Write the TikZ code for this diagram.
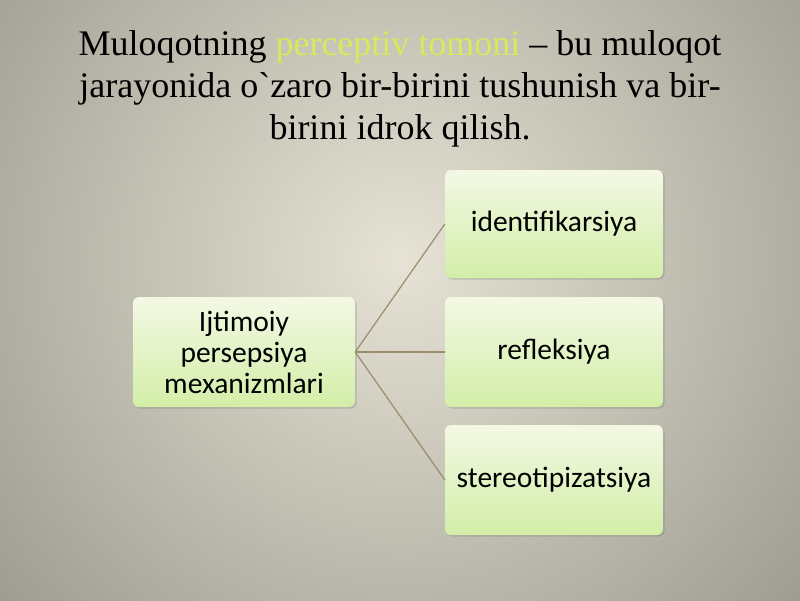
\documentclass[tikz,border=0pt]{standalone}
\usepackage{fontspec}
\setmainfont{Liberation Serif}[Ligatures=TeXOff]
\newfontfamily\boxfont{Carlito}
\usetikzlibrary{shadows}
\definecolor{bgdark}{HTML}{9D9B8F}
\definecolor{bglight}{HTML}{E6E3D6}
\definecolor{boxtop}{HTML}{F3F8E4}
\definecolor{boxbot}{HTML}{D3EEA8}
\definecolor{hilite}{HTML}{D6EA5C}
\definecolor{linkcol}{HTML}{9A8C6C}
\tikzset{
  box/.style={rectangle, rounded corners=6pt, minimum width=222pt, minimum height=110pt,
    top color=boxtop, bottom color=boxbot, draw=none, align=center,
    font=\boxfont\fontsize{29.5pt}{31pt}\selectfont, text=black,
    drop shadow={shadow xshift=1.5pt, shadow yshift=-1.5pt, opacity=0.25, fill=black!60}},
  link/.style={draw=linkcol, line width=1.2pt},
  title/.style={align=center, font=\fontsize{36pt}{42pt}\selectfont, text=black}
}
\begin{document}
\begin{tikzpicture}[x=1pt,y=-1pt]
\useasboundingbox (0,0) rectangle (800,600);
\fill[bgdark] (0,0) rectangle (800,600);
\begin{scope}
\clip (0,0) rectangle (800,600);
\shade[inner color=bglight, outer color=bgdark] (400,260) circle (540);
\end{scope}
\node[title] (t) at (400,89) {Muloqotning {\color{hilite}perceptiv tomoni} – bu muloqot\\jarayonida o`zaro bir-birini tushunish va bir-\\birini idrok qilish.};
\node[box] (m) at (244,352) {Ijtimoiy\\persepsiya\\mexanizmlari};
\node[box, minimum width=218pt, minimum height=108pt] (a) at (554,224) {identifikarsiya};
\node[box, minimum width=218pt] (b) at (554,352) {refleksiya};
\node[box, minimum width=218pt] (c) at (554,480) {stereotipizatsiya};
\draw[link] (m.east) -- (a.west);
\draw[link] (m.east) -- (b.west);
\draw[link] (m.east) -- (c.west);
\end{tikzpicture}
\end{document}
